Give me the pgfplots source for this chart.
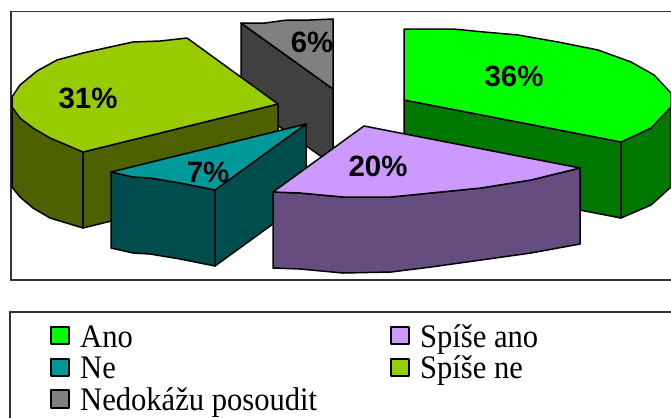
\documentclass[border=0pt]{standalone}
\usepackage{pgfplots}
\pgfplotsset{compat=1.18}
\usepackage{fontspec}
\setmainfont{Liberation Serif}
\newfontfamily\lab{Liberation Sans}
\definecolor{cgreen}{HTML}{00FF00}\definecolor{dgreen}{HTML}{007800}
\definecolor{cteal}{HTML}{009999}\definecolor{dteal}{HTML}{004D4D}
\definecolor{clav}{HTML}{CC99FF}\definecolor{dlav}{HTML}{664D80}
\definecolor{colive}{HTML}{99CC00}\definecolor{dolive}{HTML}{4D6100}
\definecolor{cgray}{HTML}{808080}\definecolor{dgray}{HTML}{404040}
\pgfplotsset{pol/.style={draw=black,line width=1.5bp,line join=round,mark=none,fill=#1},
 frm/.style={draw=black!80,line width=1.6bp,mark=none,fill=white}}
\newcommand{\pct}[3]{\node[font={\fontsize{29.5}{29.5}\lab\bfseries},inner sep=0pt] at (axis cs:#1,#2) {#3};}
\newcommand{\leg}[3]{\node[anchor=base west,inner sep=0pt,xscale=0.93,transform shape,font={\fontsize{33}{33}\selectfont}] at (axis cs:#1,#2) {#3};}
\begin{document}
\begin{tikzpicture}
\begin{axis}[x=1bp,y=1bp,xmin=0,xmax=671,ymin=0,ymax=417,y dir=reverse,axis lines=none,clip=true,scale only axis,width=671bp,height=417bp]
\addplot[fill=white,draw=none,mark=none] coordinates {(0,0)(671,0)(671,417)(0,417)} -- cycle;
% frames
\addplot[frm] coordinates {(11,11.5)(690,11.5)(690,280)(11,280)} -- cycle;
\addplot[frm] coordinates {(10,312)(690,312)(690,440)(10,440)} -- cycle;
% gray 6%
\addplot[pol=dgray] coordinates {(241,23)(333,89)(333,165)(241,99)} -- cycle;
\addplot[pol=cgray] coordinates {(241,23)(265,23)(287,20)(310,20)(333,19)(333,89)} -- cycle;
% olive 31%
\addplot[pol=dolive] coordinates {(12,107)(83,152)(83,228)(50,218)(33,208)(20,197)(12,187)} -- cycle;
\addplot[pol=dolive] coordinates {(83,152)(278,104)(278,180)(83,228)} -- cycle;
\addplot[pol=colive] coordinates {(187,38)(278,104)(83,152)(50,138)(33,128)(20,118)(12,107)(12,97)(20,85)(37,71)(57,60)(83,53)(110,47)(133,42)(160,41)} -- cycle;
% green 36%
\addplot[pol=dgreen] coordinates {(404,100)(621,142)(621,218)(404,176)} -- cycle;
\addplot[pol=dgreen] coordinates {(621,142)(651,128)(671,107)(671,187)(651,205)(621,218)} -- cycle;
\addplot[pol=cgreen] coordinates {(404,29)(453,29)(484,32)(518,35)(558,42)(598,50)(631,62)(654,75)(671,93)(671,107)(651,128)(621,142)(404,100)} -- cycle;
% teal 7%
\addplot[pol=dteal] coordinates {(215,190)(306,124)(306,200)(215,266)} -- cycle;
\addplot[pol=dteal] coordinates {(111,172)(133,177)(150,178)(180,183)(215,190)(215,266)(180,259)(150,254)(133,253)(111,248)} -- cycle;
\addplot[pol=cteal] coordinates {(111,172)(306,124)(215,190)(180,183)(150,178)(133,177)} -- cycle;
% lavender 20%
\addplot[pol=dlav] coordinates {(273,192)(300,193)(343,197)(391,197)(431,193)(481,188)(531,180)(580,168)(580,244)(531,253)(481,260)(431,267)(391,272)(343,273)(300,269)(273,268)} -- cycle;
\addplot[pol=clav] coordinates {(364,126)(580,168)(531,180)(481,188)(431,193)(391,197)(343,197)(300,193)(273,192)} -- cycle;
% swatches
\addplot[pol=cgreen] coordinates {(51,327)(69,327)(69,344)(51,344)} -- cycle;
\addplot[pol=cteal] coordinates {(51,359)(69,359)(69,376)(51,376)} -- cycle;
\addplot[pol=cgray] coordinates {(51,390)(69,390)(69,408)(51,408)} -- cycle;
\addplot[pol=clav] coordinates {(391,327)(409,327)(409,344)(391,344)} -- cycle;
\addplot[pol=colive] coordinates {(391,359)(409,359)(409,376)(391,376)} -- cycle;
\pct{514}{76}{36\%}
\pct{378}{166}{20\%}
\pct{208}{172}{7\%}
\pct{312}{42}{6\%}
\pct{88}{98}{31\%}
\leg{80}{347}{Ano}
\leg{80}{378}{Ne}
\leg{80}{410}{Nedokážu posoudit}
\leg{420}{347}{Spíše ano}
\leg{420}{378}{Spíše ne}
\end{axis}
\end{tikzpicture}
\end{document}
